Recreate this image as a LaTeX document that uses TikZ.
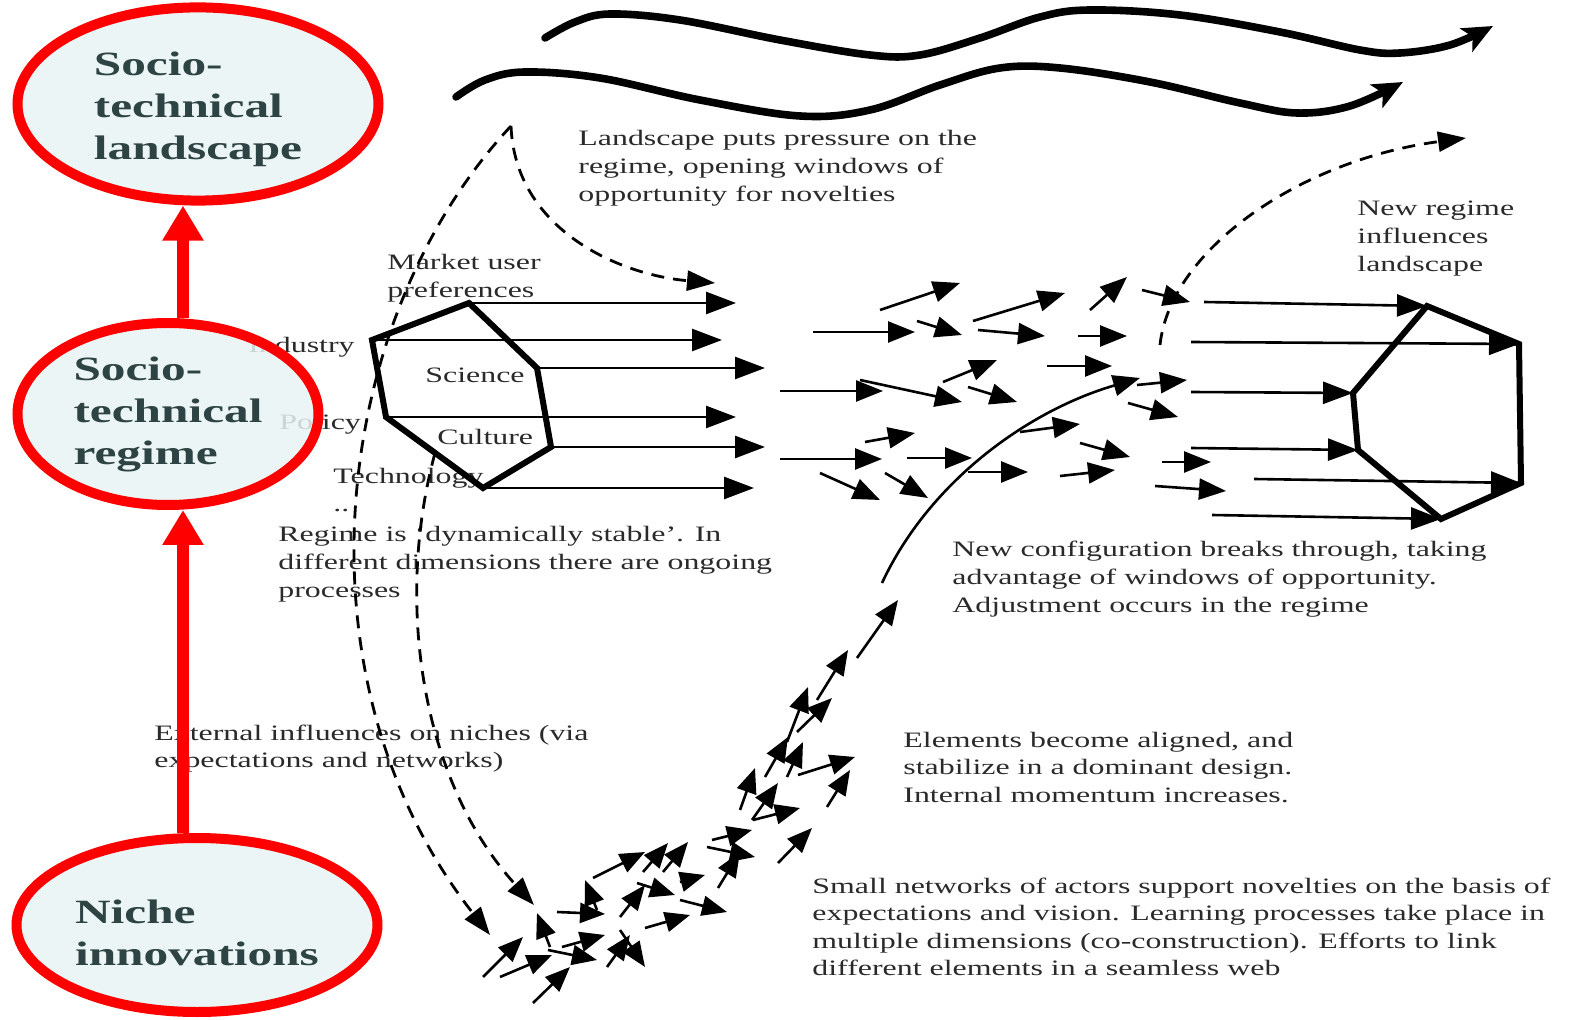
\documentclass[tikz,border=0pt]{standalone}
\usepackage{fontspec}
\setmainfont{Liberation Serif}
\usetikzlibrary{arrows.meta,shapes.geometric}
\definecolor{stagefill}{HTML}{E7F3F3}
\definecolor{stageink}{HTML}{2E4343}
\definecolor{noteink}{HTML}{2A2A2A}
\newcommand{\widetext}[1]{\scalebox{1.45}[1]{\begin{tabular}[t]{@{}l@{}}#1\end{tabular}}}
\newcommand{\stagetext}[1]{\scalebox{1.45}[1]{\begin{tabular}{@{}l@{}}#1\end{tabular}}}
\tikzset{
  note/.style={anchor=base west, inner sep=0pt, text=noteink, font=\fontsize{11}{13.8}\selectfont},
  stage/.style={ellipse, draw=red, line width=5pt, fill=stagefill, fill opacity=0.85, text opacity=1,
    text=stageink, inner sep=0pt, font=\fontsize{17}{21}\selectfont\bfseries},
  redrise/.style={draw=red, line width=6pt, -{Triangle[length=17.5pt,width=19.5pt]}},
  hexline/.style={line width=3pt, line join=miter},
  hexflow/.style={line width=1.3pt, -{Triangle[length=15pt,width=11pt]}},
  midflow/.style={line width=1.3pt, -{Triangle[length=13.5pt,width=10.5pt]}},
  nicheflow/.style={line width=1.3pt, -{Triangle[length=12.5pt,width=10pt]}},
  dashflow/.style={line width=1.4pt, dash pattern=on 6.5pt off 4.5pt, -{Triangle[length=14pt,width=10pt]}},
  waveline/.style={line width=3.8pt, line cap=round, -{Stealth[length=15pt,width=13pt,inset=3.5pt]}},
}
\begin{document}
\begin{tikzpicture}[x=0.5pt,y=-0.5pt]
  \useasboundingbox (0,0) rectangle (1583,1020);

  \node[note] (pressuretxt) at (578,146) {\widetext{Landscape puts pressure on the\\regime, opening windows of\\opportunity for novelties}};
  \node[note] (market) at (387,270) {\widetext{Market user\\preferences}};
  \node[note, anchor=base east] (industry) at (355,353) {\widetext{Industry}};
  \node[note] (science) at (425,383) {\widetext{Science}};
  \node[note] (policy) at (279,430) {\widetext{Policy}};
  \node[note] (culture) at (437,445) {\widetext{Culture}};
  \node[note] (technology) at (333,484) {\widetext{Technology\\..}};
  \node[note] (stable) at (278,542) {\widetext{Regime is ‘dynamically stable’. In\\different dimensions there are ongoing\\processes}};
  \node[note] (newregime) at (1357,216) {\widetext{New regime\\influences\\landscape}};
  \node[note] (breakthrough) at (952,557) {\widetext{New configuration breaks through, taking\\advantage of windows of opportunity.\\Adjustment occurs in the regime}};
  \node[note] (external) at (154,740) {\widetext{External influences on niches (via\\expectations and networks)}};
  \node[note] (aligned) at (903,747) {\widetext{Elements become aligned, and\\stabilize in a dominant design.\\Internal momentum increases.}};
  \node[note] (networks) at (812,893) {\widetext{Small networks of actors support novelties on the basis of\\expectations and vision. Learning processes take place in\\multiple dimensions (co-construction). Efforts to link\\different elements in a seamless web}};

  \node[stage, minimum width=180.5pt, minimum height=91.5pt] (landscape) at (198,104) {\stagetext{\rule{0pt}{20pt}Socio-\\technical\\landscape}};
  \node[stage, minimum width=150.5pt, minimum height=91pt] (regime) at (168,414) {\stagetext{Socio-\\technical\\regime}};
  \node[stage, minimum width=180.5pt, minimum height=87pt] (niche) at (197,925) {\stagetext{\rule{0pt}{26pt}Niche\\innovations}};
  \coordinate (spine) at (183,0);
  \draw[redrise] (spine |- regime.north) -- (spine |- landscape.south);
  \draw[redrise] (spine |- niche.north) -- (spine |- regime.south);

  \draw[waveline] plot[smooth, tension=0.6] coordinates {(545,38) (575,22) (610,14) (680,20) (780,40) (870,55) (920,55) (980,38) (1040,17) (1090,10) (1180,15) (1280,32) (1360,50) (1400,53) (1450,45) (1493,26)};
  \draw[waveline] plot[smooth, tension=0.6] coordinates {(456,97) (485,80) (525,72) (600,78) (700,100) (800,116) (870,110) (940,85) (1000,68) (1060,68) (1150,82) (1240,103) (1297,113) (1350,106) (1403,82)};

  \coordinate (L1) at (372,340);
  \coordinate (L2) at (469,303);
  \coordinate (L3) at (537,368);
  \coordinate (L4) at (551,447);
  \coordinate (L5) at (483,488);
  \coordinate (L6) at (386,417);
  \draw[hexline] (L1) -- (L2) -- (L3) -- (L4) -- (L5) -- (L6) -- cycle;
  \coordinate (m1) at (736,302);
  \coordinate (m2) at (722,339);
  \coordinate (m3) at (765,367);
  \coordinate (m4) at (736,415);
  \coordinate (m5) at (765,447);
  \coordinate (m6) at (754,487);
  \foreach \v/\t in {L2/m1, L1/m2, L3/m3, L6/m4, L4/m5, L5/m6}
    \draw[hexflow] (\v) -- (\t |- \v);

  \coordinate (R1) at (1427,306);
  \coordinate (R2) at (1519,344);
  \coordinate (R3) at (1521,483);
  \coordinate (R4) at (1441,519);
  \coordinate (R5) at (1358,450);
  \coordinate (R6) at (1353,393);
  \draw[hexline] (R1) -- (R2) -- (R3) -- (R4) -- (R5) -- (R6) -- cycle;
  \coordinate (s1) at (1204,302);
  \coordinate (s2) at (1191,342);
  \coordinate (s3) at (1191,392);
  \coordinate (s4) at (1191,448);
  \coordinate (s5) at (1254,479);
  \coordinate (s6) at (1212,515);
  \foreach \s/\v in {s1/R1, s2/R2, s3/R6, s4/R5, s5/R3, s6/R4}
    \draw[hexflow] (\s) -- (\v);

  \foreach \a/\b/\c/\d in {880/310/960/283, 813/332/915/332, 917/321/962/335, 973/321/1065/293,
      978/330/1045/336, 1090/310/1127/277, 1142/290/1190/302, 1078/336/1127/336,
      943/382/997/360, 1047/366/1112/366, 780/391/883/391, 860/380/962/402,
      968/387/1017/402, 1137/385/1187/380, 1128/403/1178/417, 865/442/915/433,
      780/459/882/459, 907/458/972/458, 1020/432/1080/424, 1080/443/1130/457,
      820/473/880/500, 885/473/928/498, 968/472/1028/472, 1060/476/1115/470,
      1162/462/1211/462, 1155/486/1226/491}
    \draw[midflow] (\a,\b) -- (\c,\d);

  \foreach \a/\b/\c/\d in {483/977/523/937, 500/977/552/955, 533/1003/570/967, 550/947/537/913,
      548/950/597/960, 557/912/605/914, 597/910/585/880, 562/947/605/935,
      607/967/630/935, 620/930/645/967, 620/917/645/885, 593/878/645/852,
      643/872/668/843, 663/872/688/842, 637/883/675/895, 645/928/690/915,
      680/882/705/875, 680/900/727/912, 718/888/740/852, 707/847/755/857,
      712/840/752/830, 740/810/755/768, 752/820/778/783, 753/820/800/808,
      778/863/812/828, 765/777/788/737, 787/777/803/742, 798/775/855/757,
      827/807/850/770, 787/742/808/687, 797/732/832/698, 817/700/848/650,
      857/658/898/600}
    \draw[nicheflow] (\a,\b) -- (\c,\d);

  \coordinate (curvefoot) at (882,583);
  \coordinate (curvetip) at (1140,378);
  \draw[midflow] (curvefoot) .. controls (930,480) and (1030,410) .. (curvetip);

  \coordinate (gap) at (511,126);
  \coordinate (windowtip) at (715,283);
  \coordinate (outertip) at (490,935);
  \coordinate (hexedge) at (435,453);
  \coordinate (innertip) at (534,905);
  \coordinate (newfoot) at (1160,345);
  \coordinate (landtip) at (1466,138);
  \draw[dashflow] (gap) .. controls (515,230) and (620,275) .. (windowtip);
  \draw[dashflow] (gap) .. controls (330,320) and (290,680) .. (outertip);
  \draw[dashflow] (hexedge) .. controls (395,600) and (420,780) .. (innertip);
  \draw[dashflow] (newfoot) .. controls (1170,250) and (1300,160) .. (landtip);
\end{tikzpicture}
\end{document}
